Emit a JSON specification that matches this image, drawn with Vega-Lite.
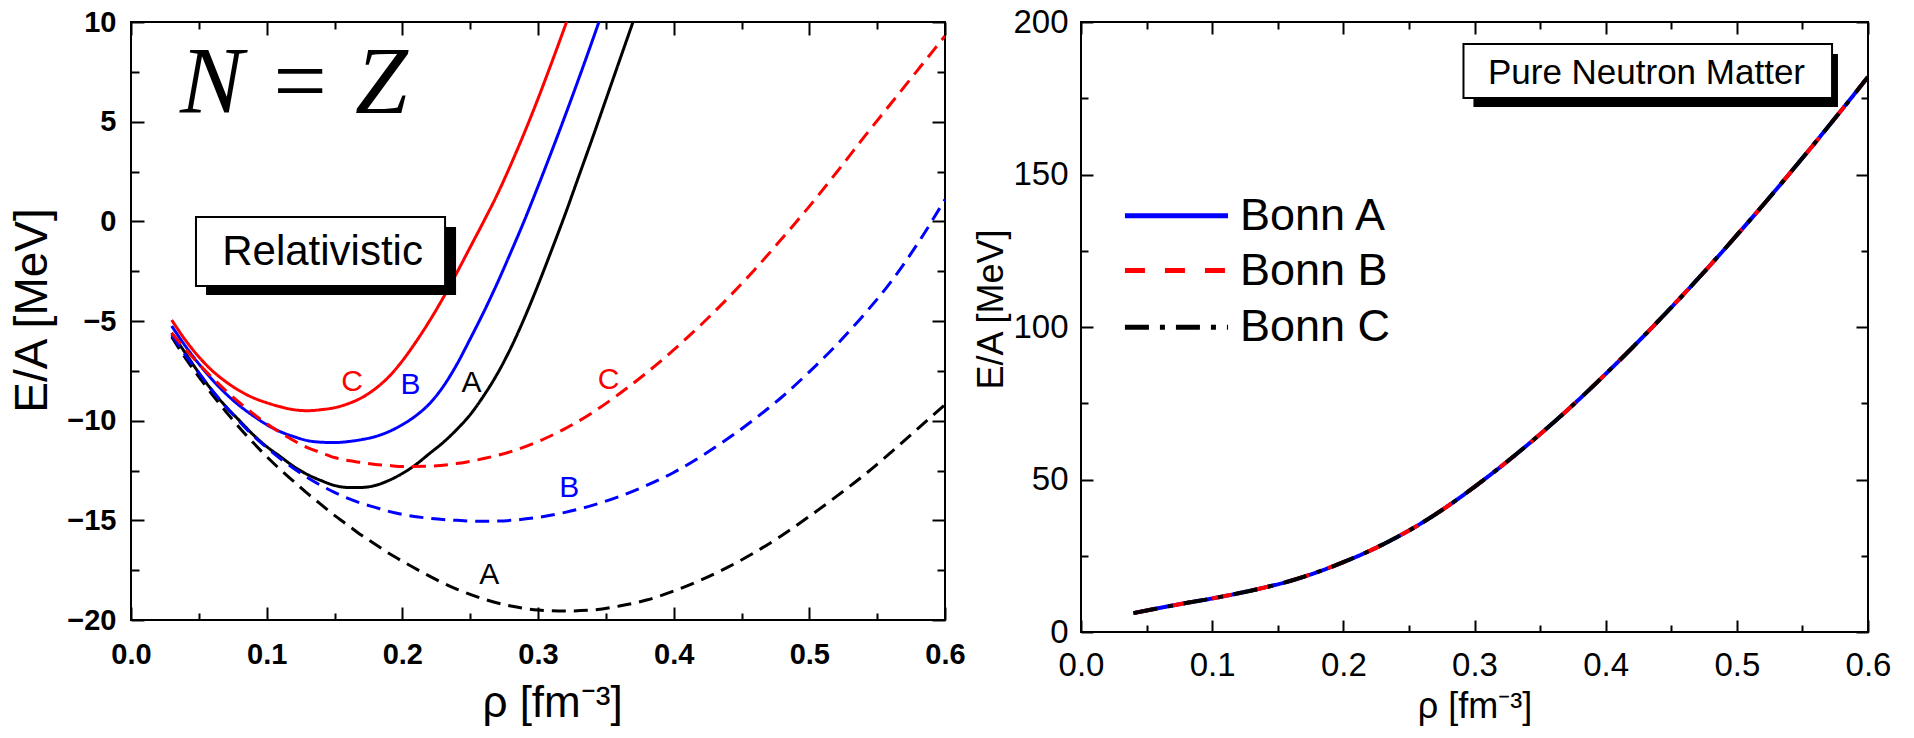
{
  "$schema": "https://vega.github.io/schema/vega-lite/v6.json",
  "background": "white",
  "padding": {"left": 8, "top": 5, "right": 0, "bottom": 0},
  "spacing": 5,
  "resolve": {"scale": {"color": "independent", "strokeDash": "independent", "x": "independent", "y": "independent"}},
  "config": {
    "view": {"stroke": "#000000", "strokeWidth": 2},
    "axis": {"grid": false, "domain": false},
    "font": "Liberation Sans"
  },
  "datasets": {
    "nz": [
      {"rho":0.03,"ea":-5.6,"model":"A","kind":"rel"},{"rho":0.04,"ea":-6.6,"model":"A","kind":"rel"},{"rho":0.05,"ea":-7.6,"model":"A","kind":"rel"},{"rho":0.06,"ea":-8.5,"model":"A","kind":"rel"},{"rho":0.07,"ea":-9.3,"model":"A","kind":"rel"},{"rho":0.08,"ea":-10.0,"model":"A","kind":"rel"},{"rho":0.09,"ea":-10.7,"model":"A","kind":"rel"},{"rho":0.10,"ea":-11.3,"model":"A","kind":"rel"},{"rho":0.11,"ea":-11.8,"model":"A","kind":"rel"},{"rho":0.12,"ea":-12.3,"model":"A","kind":"rel"},{"rho":0.13,"ea":-12.7,"model":"A","kind":"rel"},{"rho":0.14,"ea":-13.0,"model":"A","kind":"rel"},{"rho":0.15,"ea":-13.25,"model":"A","kind":"rel"},{"rho":0.16,"ea":-13.35,"model":"A","kind":"rel"},{"rho":0.17,"ea":-13.35,"model":"A","kind":"rel"},{"rho":0.18,"ea":-13.25,"model":"A","kind":"rel"},{"rho":0.19,"ea":-13.0,"model":"A","kind":"rel"},{"rho":0.20,"ea":-12.65,"model":"A","kind":"rel"},{"rho":0.21,"ea":-12.2,"model":"A","kind":"rel"},{"rho":0.22,"ea":-11.65,"model":"A","kind":"rel"},{"rho":0.23,"ea":-11.1,"model":"A","kind":"rel"},{"rho":0.24,"ea":-10.45,"model":"A","kind":"rel"},{"rho":0.25,"ea":-9.7,"model":"A","kind":"rel"},{"rho":0.26,"ea":-8.75,"model":"A","kind":"rel"},{"rho":0.27,"ea":-7.65,"model":"A","kind":"rel"},{"rho":0.28,"ea":-6.35,"model":"A","kind":"rel"},{"rho":0.29,"ea":-4.85,"model":"A","kind":"rel"},{"rho":0.30,"ea":-3.2,"model":"A","kind":"rel"},{"rho":0.31,"ea":-1.45,"model":"A","kind":"rel"},{"rho":0.32,"ea":0.35,"model":"A","kind":"rel"},{"rho":0.33,"ea":2.25,"model":"A","kind":"rel"},{"rho":0.34,"ea":4.15,"model":"A","kind":"rel"},{"rho":0.35,"ea":6.1,"model":"A","kind":"rel"},{"rho":0.36,"ea":8.05,"model":"A","kind":"rel"},{"rho":0.37,"ea":10.0,"model":"A","kind":"rel"},{"rho":0.38,"ea":12.0,"model":"A","kind":"rel"},
      {"rho":0.03,"ea":-5.25,"model":"B","kind":"rel"},{"rho":0.04,"ea":-6.25,"model":"B","kind":"rel"},{"rho":0.05,"ea":-7.15,"model":"B","kind":"rel"},{"rho":0.06,"ea":-7.95,"model":"B","kind":"rel"},{"rho":0.07,"ea":-8.65,"model":"B","kind":"rel"},{"rho":0.08,"ea":-9.25,"model":"B","kind":"rel"},{"rho":0.09,"ea":-9.75,"model":"B","kind":"rel"},{"rho":0.10,"ea":-10.2,"model":"B","kind":"rel"},{"rho":0.11,"ea":-10.55,"model":"B","kind":"rel"},{"rho":0.12,"ea":-10.8,"model":"B","kind":"rel"},{"rho":0.13,"ea":-11.0,"model":"B","kind":"rel"},{"rho":0.14,"ea":-11.08,"model":"B","kind":"rel"},{"rho":0.15,"ea":-11.1,"model":"B","kind":"rel"},{"rho":0.16,"ea":-11.05,"model":"B","kind":"rel"},{"rho":0.17,"ea":-10.95,"model":"B","kind":"rel"},{"rho":0.18,"ea":-10.8,"model":"B","kind":"rel"},{"rho":0.19,"ea":-10.55,"model":"B","kind":"rel"},{"rho":0.20,"ea":-10.2,"model":"B","kind":"rel"},{"rho":0.21,"ea":-9.75,"model":"B","kind":"rel"},{"rho":0.22,"ea":-9.15,"model":"B","kind":"rel"},{"rho":0.23,"ea":-8.3,"model":"B","kind":"rel"},{"rho":0.24,"ea":-7.2,"model":"B","kind":"rel"},{"rho":0.25,"ea":-5.9,"model":"B","kind":"rel"},{"rho":0.26,"ea":-4.55,"model":"B","kind":"rel"},{"rho":0.27,"ea":-3.1,"model":"B","kind":"rel"},{"rho":0.28,"ea":-1.55,"model":"B","kind":"rel"},{"rho":0.29,"ea":0.05,"model":"B","kind":"rel"},{"rho":0.30,"ea":1.75,"model":"B","kind":"rel"},{"rho":0.31,"ea":3.5,"model":"B","kind":"rel"},{"rho":0.32,"ea":5.3,"model":"B","kind":"rel"},{"rho":0.33,"ea":7.15,"model":"B","kind":"rel"},{"rho":0.34,"ea":9.05,"model":"B","kind":"rel"},{"rho":0.35,"ea":11.0,"model":"B","kind":"rel"},
      {"rho":0.03,"ea":-4.95,"model":"C","kind":"rel"},{"rho":0.04,"ea":-5.95,"model":"C","kind":"rel"},{"rho":0.05,"ea":-6.8,"model":"C","kind":"rel"},{"rho":0.06,"ea":-7.5,"model":"C","kind":"rel"},{"rho":0.07,"ea":-8.05,"model":"C","kind":"rel"},{"rho":0.08,"ea":-8.5,"model":"C","kind":"rel"},{"rho":0.09,"ea":-8.85,"model":"C","kind":"rel"},{"rho":0.10,"ea":-9.1,"model":"C","kind":"rel"},{"rho":0.11,"ea":-9.3,"model":"C","kind":"rel"},{"rho":0.12,"ea":-9.45,"model":"C","kind":"rel"},{"rho":0.13,"ea":-9.5,"model":"C","kind":"rel"},{"rho":0.14,"ea":-9.45,"model":"C","kind":"rel"},{"rho":0.15,"ea":-9.35,"model":"C","kind":"rel"},{"rho":0.16,"ea":-9.15,"model":"C","kind":"rel"},{"rho":0.17,"ea":-8.85,"model":"C","kind":"rel"},{"rho":0.18,"ea":-8.4,"model":"C","kind":"rel"},{"rho":0.19,"ea":-7.8,"model":"C","kind":"rel"},{"rho":0.20,"ea":-7.0,"model":"C","kind":"rel"},{"rho":0.21,"ea":-6.05,"model":"C","kind":"rel"},{"rho":0.22,"ea":-5.0,"model":"C","kind":"rel"},{"rho":0.23,"ea":-3.85,"model":"C","kind":"rel"},{"rho":0.24,"ea":-2.6,"model":"C","kind":"rel"},{"rho":0.25,"ea":-1.3,"model":"C","kind":"rel"},{"rho":0.26,"ea":0.0,"model":"C","kind":"rel"},{"rho":0.27,"ea":1.35,"model":"C","kind":"rel"},{"rho":0.28,"ea":2.85,"model":"C","kind":"rel"},{"rho":0.29,"ea":4.45,"model":"C","kind":"rel"},{"rho":0.30,"ea":6.15,"model":"C","kind":"rel"},{"rho":0.31,"ea":7.95,"model":"C","kind":"rel"},{"rho":0.32,"ea":9.8,"model":"C","kind":"rel"},{"rho":0.33,"ea":11.7,"model":"C","kind":"rel"},
      {"rho":0.03,"ea":-5.8,"model":"A","kind":"nonrel"},{"rho":0.04,"ea":-6.85,"model":"A","kind":"nonrel"},{"rho":0.05,"ea":-7.8,"model":"A","kind":"nonrel"},{"rho":0.06,"ea":-8.7,"model":"A","kind":"nonrel"},{"rho":0.07,"ea":-9.55,"model":"A","kind":"nonrel"},{"rho":0.08,"ea":-10.35,"model":"A","kind":"nonrel"},{"rho":0.09,"ea":-11.1,"model":"A","kind":"nonrel"},{"rho":0.10,"ea":-11.8,"model":"A","kind":"nonrel"},{"rho":0.11,"ea":-12.45,"model":"A","kind":"nonrel"},{"rho":0.12,"ea":-13.05,"model":"A","kind":"nonrel"},{"rho":0.13,"ea":-13.65,"model":"A","kind":"nonrel"},{"rho":0.14,"ea":-14.2,"model":"A","kind":"nonrel"},{"rho":0.15,"ea":-14.75,"model":"A","kind":"nonrel"},{"rho":0.16,"ea":-15.25,"model":"A","kind":"nonrel"},{"rho":0.17,"ea":-15.75,"model":"A","kind":"nonrel"},{"rho":0.18,"ea":-16.2,"model":"A","kind":"nonrel"},{"rho":0.19,"ea":-16.65,"model":"A","kind":"nonrel"},{"rho":0.20,"ea":-17.05,"model":"A","kind":"nonrel"},{"rho":0.22,"ea":-17.8,"model":"A","kind":"nonrel"},{"rho":0.24,"ea":-18.45,"model":"A","kind":"nonrel"},{"rho":0.26,"ea":-18.95,"model":"A","kind":"nonrel"},{"rho":0.28,"ea":-19.3,"model":"A","kind":"nonrel"},{"rho":0.30,"ea":-19.5,"model":"A","kind":"nonrel"},{"rho":0.32,"ea":-19.55,"model":"A","kind":"nonrel"},{"rho":0.34,"ea":-19.5,"model":"A","kind":"nonrel"},{"rho":0.36,"ea":-19.3,"model":"A","kind":"nonrel"},{"rho":0.38,"ea":-19.0,"model":"A","kind":"nonrel"},{"rho":0.40,"ea":-18.55,"model":"A","kind":"nonrel"},{"rho":0.42,"ea":-18.0,"model":"A","kind":"nonrel"},{"rho":0.44,"ea":-17.35,"model":"A","kind":"nonrel"},{"rho":0.46,"ea":-16.6,"model":"A","kind":"nonrel"},{"rho":0.48,"ea":-15.75,"model":"A","kind":"nonrel"},{"rho":0.50,"ea":-14.8,"model":"A","kind":"nonrel"},{"rho":0.52,"ea":-13.8,"model":"A","kind":"nonrel"},{"rho":0.54,"ea":-12.75,"model":"A","kind":"nonrel"},{"rho":0.56,"ea":-11.6,"model":"A","kind":"nonrel"},{"rho":0.58,"ea":-10.4,"model":"A","kind":"nonrel"},{"rho":0.60,"ea":-9.2,"model":"A","kind":"nonrel"},
      {"rho":0.03,"ea":-5.7,"model":"B","kind":"nonrel"},{"rho":0.04,"ea":-6.7,"model":"B","kind":"nonrel"},{"rho":0.05,"ea":-7.6,"model":"B","kind":"nonrel"},{"rho":0.06,"ea":-8.5,"model":"B","kind":"nonrel"},{"rho":0.07,"ea":-9.3,"model":"B","kind":"nonrel"},{"rho":0.08,"ea":-10.05,"model":"B","kind":"nonrel"},{"rho":0.09,"ea":-10.75,"model":"B","kind":"nonrel"},{"rho":0.10,"ea":-11.35,"model":"B","kind":"nonrel"},{"rho":0.11,"ea":-11.9,"model":"B","kind":"nonrel"},{"rho":0.12,"ea":-12.4,"model":"B","kind":"nonrel"},{"rho":0.13,"ea":-12.85,"model":"B","kind":"nonrel"},{"rho":0.14,"ea":-13.25,"model":"B","kind":"nonrel"},{"rho":0.15,"ea":-13.6,"model":"B","kind":"nonrel"},{"rho":0.16,"ea":-13.9,"model":"B","kind":"nonrel"},{"rho":0.17,"ea":-14.15,"model":"B","kind":"nonrel"},{"rho":0.18,"ea":-14.35,"model":"B","kind":"nonrel"},{"rho":0.19,"ea":-14.55,"model":"B","kind":"nonrel"},{"rho":0.20,"ea":-14.7,"model":"B","kind":"nonrel"},{"rho":0.22,"ea":-14.9,"model":"B","kind":"nonrel"},{"rho":0.24,"ea":-15.0,"model":"B","kind":"nonrel"},{"rho":0.26,"ea":-15.05,"model":"B","kind":"nonrel"},{"rho":0.28,"ea":-15.0,"model":"B","kind":"nonrel"},{"rho":0.30,"ea":-14.85,"model":"B","kind":"nonrel"},{"rho":0.32,"ea":-14.6,"model":"B","kind":"nonrel"},{"rho":0.34,"ea":-14.25,"model":"B","kind":"nonrel"},{"rho":0.36,"ea":-13.8,"model":"B","kind":"nonrel"},{"rho":0.38,"ea":-13.25,"model":"B","kind":"nonrel"},{"rho":0.40,"ea":-12.6,"model":"B","kind":"nonrel"},{"rho":0.42,"ea":-11.8,"model":"B","kind":"nonrel"},{"rho":0.44,"ea":-10.9,"model":"B","kind":"nonrel"},{"rho":0.46,"ea":-9.9,"model":"B","kind":"nonrel"},{"rho":0.48,"ea":-8.8,"model":"B","kind":"nonrel"},{"rho":0.50,"ea":-7.55,"model":"B","kind":"nonrel"},{"rho":0.52,"ea":-6.2,"model":"B","kind":"nonrel"},{"rho":0.54,"ea":-4.7,"model":"B","kind":"nonrel"},{"rho":0.56,"ea":-3.05,"model":"B","kind":"nonrel"},{"rho":0.58,"ea":-1.1,"model":"B","kind":"nonrel"},{"rho":0.60,"ea":1.1,"model":"B","kind":"nonrel"},
      {"rho":0.03,"ea":-5.6,"model":"C","kind":"nonrel"},{"rho":0.04,"ea":-6.4,"model":"C","kind":"nonrel"},{"rho":0.05,"ea":-7.15,"model":"C","kind":"nonrel"},{"rho":0.06,"ea":-7.85,"model":"C","kind":"nonrel"},{"rho":0.07,"ea":-8.5,"model":"C","kind":"nonrel"},{"rho":0.08,"ea":-9.1,"model":"C","kind":"nonrel"},{"rho":0.09,"ea":-9.65,"model":"C","kind":"nonrel"},{"rho":0.10,"ea":-10.15,"model":"C","kind":"nonrel"},{"rho":0.11,"ea":-10.6,"model":"C","kind":"nonrel"},{"rho":0.12,"ea":-11.0,"model":"C","kind":"nonrel"},{"rho":0.13,"ea":-11.35,"model":"C","kind":"nonrel"},{"rho":0.14,"ea":-11.6,"model":"C","kind":"nonrel"},{"rho":0.15,"ea":-11.85,"model":"C","kind":"nonrel"},{"rho":0.16,"ea":-12.0,"model":"C","kind":"nonrel"},{"rho":0.17,"ea":-12.1,"model":"C","kind":"nonrel"},{"rho":0.18,"ea":-12.2,"model":"C","kind":"nonrel"},{"rho":0.19,"ea":-12.25,"model":"C","kind":"nonrel"},{"rho":0.20,"ea":-12.3,"model":"C","kind":"nonrel"},{"rho":0.22,"ea":-12.28,"model":"C","kind":"nonrel"},{"rho":0.24,"ea":-12.15,"model":"C","kind":"nonrel"},{"rho":0.26,"ea":-11.9,"model":"C","kind":"nonrel"},{"rho":0.28,"ea":-11.55,"model":"C","kind":"nonrel"},{"rho":0.30,"ea":-11.05,"model":"C","kind":"nonrel"},{"rho":0.32,"ea":-10.4,"model":"C","kind":"nonrel"},{"rho":0.34,"ea":-9.6,"model":"C","kind":"nonrel"},{"rho":0.36,"ea":-8.65,"model":"C","kind":"nonrel"},{"rho":0.38,"ea":-7.6,"model":"C","kind":"nonrel"},{"rho":0.40,"ea":-6.45,"model":"C","kind":"nonrel"},{"rho":0.42,"ea":-5.2,"model":"C","kind":"nonrel"},{"rho":0.44,"ea":-3.85,"model":"C","kind":"nonrel"},{"rho":0.46,"ea":-2.4,"model":"C","kind":"nonrel"},{"rho":0.48,"ea":-0.85,"model":"C","kind":"nonrel"},{"rho":0.50,"ea":0.75,"model":"C","kind":"nonrel"},{"rho":0.52,"ea":2.45,"model":"C","kind":"nonrel"},{"rho":0.54,"ea":4.2,"model":"C","kind":"nonrel"},{"rho":0.56,"ea":5.9,"model":"C","kind":"nonrel"},{"rho":0.58,"ea":7.6,"model":"C","kind":"nonrel"},{"rho":0.60,"ea":9.3,"model":"C","kind":"nonrel"}
    ],
    "nzlabels": [
      {"rho":0.163,"ea":-8.07,"model":"C","label":"C"},
      {"rho":0.206,"ea":-8.2,"model":"B","label":"B"},
      {"rho":0.251,"ea":-8.1,"model":"A","label":"A"},
      {"rho":0.352,"ea":-7.95,"model":"C","label":"C"},
      {"rho":0.323,"ea":-13.4,"model":"B","label":"B"},
      {"rho":0.264,"ea":-17.75,"model":"A","label":"A"}
    ],
    "relbox": [{"x1":0.0479,"x2":0.2315,"y1":0.22,"y2":-3.25,"sx1":0.0553,"sx2":0.2396,"sy1":-0.29,"sy2":-3.70,"tx":0.1412,"ty":-2.19,"label":"Relativistic"}],
    "nztitle": [{"tx":0.1201,"ty":5.43,"label":"N = Z"}],
    "pnm": [
      {"rho":0.04,"ea":6.2,"model":"Bonn A"},{"rho":0.06,"ea":7.9,"model":"Bonn A"},{"rho":0.08,"ea":9.5,"model":"Bonn A"},{"rho":0.10,"ea":11.0,"model":"Bonn A"},{"rho":0.12,"ea":12.7,"model":"Bonn A"},{"rho":0.14,"ea":14.6,"model":"Bonn A"},{"rho":0.16,"ea":16.8,"model":"Bonn A"},{"rho":0.18,"ea":19.6,"model":"Bonn A"},{"rho":0.20,"ea":22.9,"model":"Bonn A"},{"rho":0.22,"ea":26.6,"model":"Bonn A"},{"rho":0.24,"ea":30.9,"model":"Bonn A"},{"rho":0.26,"ea":35.8,"model":"Bonn A"},{"rho":0.28,"ea":41.4,"model":"Bonn A"},{"rho":0.30,"ea":47.6,"model":"Bonn A"},{"rho":0.32,"ea":54.2,"model":"Bonn A"},{"rho":0.34,"ea":61.2,"model":"Bonn A"},{"rho":0.36,"ea":68.6,"model":"Bonn A"},{"rho":0.38,"ea":76.4,"model":"Bonn A"},{"rho":0.40,"ea":84.6,"model":"Bonn A"},{"rho":0.42,"ea":93.1,"model":"Bonn A"},{"rho":0.44,"ea":101.9,"model":"Bonn A"},{"rho":0.46,"ea":111.0,"model":"Bonn A"},{"rho":0.48,"ea":120.4,"model":"Bonn A"},{"rho":0.50,"ea":130.1,"model":"Bonn A"},{"rho":0.52,"ea":140.0,"model":"Bonn A"},{"rho":0.54,"ea":150.2,"model":"Bonn A"},{"rho":0.56,"ea":160.6,"model":"Bonn A"},{"rho":0.58,"ea":171.2,"model":"Bonn A"},{"rho":0.60,"ea":182.0,"model":"Bonn A"},
      {"rho":0.04,"ea":6.2,"model":"Bonn B"},{"rho":0.06,"ea":7.9,"model":"Bonn B"},{"rho":0.08,"ea":9.5,"model":"Bonn B"},{"rho":0.10,"ea":11.0,"model":"Bonn B"},{"rho":0.12,"ea":12.7,"model":"Bonn B"},{"rho":0.14,"ea":14.6,"model":"Bonn B"},{"rho":0.16,"ea":16.8,"model":"Bonn B"},{"rho":0.18,"ea":19.6,"model":"Bonn B"},{"rho":0.20,"ea":22.9,"model":"Bonn B"},{"rho":0.22,"ea":26.6,"model":"Bonn B"},{"rho":0.24,"ea":30.9,"model":"Bonn B"},{"rho":0.26,"ea":35.8,"model":"Bonn B"},{"rho":0.28,"ea":41.4,"model":"Bonn B"},{"rho":0.30,"ea":47.6,"model":"Bonn B"},{"rho":0.32,"ea":54.2,"model":"Bonn B"},{"rho":0.34,"ea":61.2,"model":"Bonn B"},{"rho":0.36,"ea":68.6,"model":"Bonn B"},{"rho":0.38,"ea":76.4,"model":"Bonn B"},{"rho":0.40,"ea":84.6,"model":"Bonn B"},{"rho":0.42,"ea":93.1,"model":"Bonn B"},{"rho":0.44,"ea":101.9,"model":"Bonn B"},{"rho":0.46,"ea":111.0,"model":"Bonn B"},{"rho":0.48,"ea":120.4,"model":"Bonn B"},{"rho":0.50,"ea":130.1,"model":"Bonn B"},{"rho":0.52,"ea":140.0,"model":"Bonn B"},{"rho":0.54,"ea":150.2,"model":"Bonn B"},{"rho":0.56,"ea":160.6,"model":"Bonn B"},{"rho":0.58,"ea":171.2,"model":"Bonn B"},{"rho":0.60,"ea":182.0,"model":"Bonn B"},
      {"rho":0.04,"ea":6.2,"model":"Bonn C"},{"rho":0.06,"ea":7.9,"model":"Bonn C"},{"rho":0.08,"ea":9.5,"model":"Bonn C"},{"rho":0.10,"ea":11.0,"model":"Bonn C"},{"rho":0.12,"ea":12.7,"model":"Bonn C"},{"rho":0.14,"ea":14.6,"model":"Bonn C"},{"rho":0.16,"ea":16.8,"model":"Bonn C"},{"rho":0.18,"ea":19.6,"model":"Bonn C"},{"rho":0.20,"ea":22.9,"model":"Bonn C"},{"rho":0.22,"ea":26.6,"model":"Bonn C"},{"rho":0.24,"ea":30.9,"model":"Bonn C"},{"rho":0.26,"ea":35.8,"model":"Bonn C"},{"rho":0.28,"ea":41.4,"model":"Bonn C"},{"rho":0.30,"ea":47.6,"model":"Bonn C"},{"rho":0.32,"ea":54.2,"model":"Bonn C"},{"rho":0.34,"ea":61.2,"model":"Bonn C"},{"rho":0.36,"ea":68.6,"model":"Bonn C"},{"rho":0.38,"ea":76.4,"model":"Bonn C"},{"rho":0.40,"ea":84.6,"model":"Bonn C"},{"rho":0.42,"ea":93.1,"model":"Bonn C"},{"rho":0.44,"ea":101.9,"model":"Bonn C"},{"rho":0.46,"ea":111.0,"model":"Bonn C"},{"rho":0.48,"ea":120.4,"model":"Bonn C"},{"rho":0.50,"ea":130.1,"model":"Bonn C"},{"rho":0.52,"ea":140.0,"model":"Bonn C"},{"rho":0.54,"ea":150.2,"model":"Bonn C"},{"rho":0.56,"ea":160.6,"model":"Bonn C"},{"rho":0.58,"ea":171.2,"model":"Bonn C"},{"rho":0.60,"ea":182.0,"model":"Bonn C"}
    ],
    "pnmlegend": [
      {"model":"Bonn A","x1":0.0335,"x2":0.1121,"tx":0.1212,"y":136.5},
      {"model":"Bonn B","x1":0.0335,"x2":0.1121,"tx":0.1212,"y":118.5},
      {"model":"Bonn C","x1":0.0335,"x2":0.1121,"tx":0.1212,"y":99.9}
    ],
    "pnmbox": [{"x1":0.2916,"x2":0.5726,"y1":192.8,"y2":175.1,"sx1":0.2992,"sx2":0.5771,"sy1":189.5,"sy2":172.1,"tx":0.4311,"ty":179.7,"label":"Pure Neutron Matter"}]
  },
  "hconcat": [
    {
      "width": 814,
      "height": 598,
      "resolve": {"axis": {"x": "independent", "y": "independent"}},
      "layer": [
        {
          "data": {"name": "nz"},
          "mark": {"type": "line", "strokeWidth": 3, "interpolate": "monotone", "clip": true},
          "encoding": {
            "x": {"field": "rho", "type": "quantitative",
              "scale": {"domain": [0, 0.6], "nice": false, "zero": false},
              "axis": {"orient": "bottom", "values": [0, 0.1, 0.2, 0.3, 0.4, 0.5, 0.6], "format": ".1f", "tickSize": -13, "tickWidth": 2, "tickColor": "#000000", "labelFont": "Liberation Sans", "labelFontSize": 29, "labelFontWeight": "bold", "labelColor": "#000000", "labelPadding": 33, "labelFlush": false, "labelOverlap": false, "title": "ρ [fm⁻³]", "titleFont": "Liberation Sans", "titleFontSize": 44, "titleFontWeight": "normal", "titleColor": "#000000", "titlePadding": 12, "titleX": 421}},
            "y": {"field": "ea", "type": "quantitative",
              "scale": {"domain": [-20, 10], "nice": false, "zero": false},
              "axis": {"orient": "left", "values": [-20, -15, -10, -5, 0, 5, 10], "tickSize": -13, "tickWidth": 2, "tickColor": "#000000", "labelFont": "Liberation Sans", "labelFontSize": 29, "labelFontWeight": "bold", "labelColor": "#000000", "labelPadding": 28, "labelFlush": false, "labelOverlap": false, "title": "E/A [MeV]", "titleFont": "Liberation Sans", "titleFontSize": 46, "titleFontWeight": "normal", "titleColor": "#000000", "titlePadding": 10, "titleY": 288}},
            "color": {"field": "model", "type": "nominal", "scale": {"domain": ["A", "B", "C"], "range": ["#000000", "#0000ff", "#ff0000"]}, "legend": null},
            "strokeDash": {"field": "kind", "type": "nominal", "scale": {"domain": ["rel", "nonrel"], "range": [[1, 0], [14, 8]]}, "legend": null}
          }
        },
        {
          "data": {"name": "nzlabels"},
          "mark": {"type": "text", "font": "Liberation Sans", "fontSize": 30, "align": "center", "baseline": "middle"},
          "encoding": {
            "x": {"field": "rho", "type": "quantitative", "axis": {"orient": "top", "values": [0, 0.1, 0.2, 0.3, 0.4, 0.5, 0.6], "tickSize": -13, "tickWidth": 2, "tickColor": "#000000", "labels": false, "title": null}},
            "y": {"field": "ea", "type": "quantitative", "axis": {"orient": "right", "values": [-20, -15, -10, -5, 0, 5, 10], "tickSize": -13, "tickWidth": 2, "tickColor": "#000000", "labels": false, "title": null}},
            "text": {"field": "label"},
            "color": {"field": "model", "type": "nominal", "legend": null}
          }
        },
        {
          "data": {"name": "relbox"},
          "mark": {"type": "rect", "fill": "#000000"},
          "encoding": {
            "x": {"field": "sx1", "type": "quantitative", "axis": {"orient": "bottom", "values": [0.05, 0.15, 0.25, 0.35, 0.45, 0.55], "tickSize": -7, "tickWidth": 2, "tickColor": "#000000", "labels": false, "title": null}},
            "x2": {"field": "sx2"},
            "y": {"field": "sy1", "type": "quantitative", "axis": {"orient": "left", "values": [-17.5, -12.5, -7.5, -2.5, 2.5, 7.5], "tickSize": -8, "tickWidth": 2, "tickColor": "#000000", "labels": false, "title": null}},
            "y2": {"field": "sy2"}
          }
        },
        {
          "data": {"name": "relbox"},
          "mark": {"type": "rect", "fill": "#ffffff", "stroke": "#000000", "strokeWidth": 2},
          "encoding": {
            "x": {"field": "x1", "type": "quantitative", "axis": {"orient": "top", "values": [0.05, 0.15, 0.25, 0.35, 0.45, 0.55], "tickSize": -7, "tickWidth": 2, "tickColor": "#000000", "labels": false, "title": null}},
            "x2": {"field": "x2"},
            "y": {"field": "y1", "type": "quantitative", "axis": {"orient": "right", "values": [-17.5, -12.5, -7.5, -2.5, 2.5, 7.5], "tickSize": -8, "tickWidth": 2, "tickColor": "#000000", "labels": false, "title": null}},
            "y2": {"field": "y2"}
          }
        },
        {
          "data": {"name": "relbox"},
          "mark": {"type": "text", "font": "Liberation Sans", "fontSize": 42, "align": "center", "baseline": "alphabetic", "color": "#000000"},
          "encoding": {
            "x": {"field": "tx", "type": "quantitative", "axis": null},
            "y": {"field": "ty", "type": "quantitative", "axis": null},
            "text": {"field": "label"}
          }
        },
        {
          "data": {"name": "nztitle"},
          "mark": {"type": "text", "font": "Liberation Serif", "fontStyle": "italic", "fontSize": 95, "align": "center", "baseline": "alphabetic", "color": "#000000"},
          "encoding": {
            "x": {"field": "tx", "type": "quantitative", "axis": null},
            "y": {"field": "ty", "type": "quantitative", "axis": null},
            "text": {"field": "label"}
          }
        }
      ]
    },
    {
      "width": 787,
      "height": 610,
      "resolve": {"axis": {"x": "independent", "y": "independent"}},
      "layer": [
        {
          "data": {"name": "pnm"},
          "mark": {"type": "line", "strokeWidth": 4, "interpolate": "monotone", "clip": true},
          "encoding": {
            "x": {"field": "rho", "type": "quantitative",
              "scale": {"domain": [0, 0.6], "nice": false, "zero": false},
              "axis": {"orient": "bottom", "values": [0, 0.1, 0.2, 0.3, 0.4, 0.5, 0.6], "format": ".1f", "tickSize": -12, "tickWidth": 2, "tickColor": "#000000", "labelFont": "Liberation Sans", "labelFontSize": 33, "labelColor": "#000000", "labelPadding": 29, "labelFlush": false, "labelOverlap": false, "title": "ρ [fm⁻³]", "titleFont": "Liberation Sans", "titleFontSize": 36, "titleFontWeight": "normal", "titleColor": "#000000", "titlePadding": 7}},
            "y": {"field": "ea", "type": "quantitative",
              "scale": {"domain": [0, 200], "nice": false, "zero": false},
              "axis": {"orient": "left", "values": [0, 50, 100, 150, 200], "tickSize": -12, "tickWidth": 2, "tickColor": "#000000", "labelFont": "Liberation Sans", "labelFontSize": 33, "labelColor": "#000000", "labelPadding": 25, "labelFlush": false, "labelOverlap": false, "title": "E/A [MeV]", "titleFont": "Liberation Sans", "titleFontSize": 36, "titleFontWeight": "normal", "titleColor": "#000000", "titlePadding": 2, "titleY": 287}},
            "color": {"field": "model", "type": "nominal", "scale": {"domain": ["Bonn A", "Bonn B", "Bonn C"], "range": ["#0000ff", "#ff0000", "#000000"]}, "legend": null},
            "strokeDash": {"field": "model", "type": "nominal", "scale": {"domain": ["Bonn A", "Bonn B", "Bonn C"], "range": [[1, 0], [20, 20], [24, 11, 5, 11]]}, "legend": null}
          }
        },
        {
          "data": {"name": "pnmlegend"},
          "mark": {"type": "rule", "strokeWidth": 5},
          "encoding": {
            "x": {"field": "x1", "type": "quantitative", "axis": {"orient": "top", "values": [0, 0.1, 0.2, 0.3, 0.4, 0.5, 0.6], "tickSize": -12, "tickWidth": 2, "tickColor": "#000000", "labels": false, "title": null}},
            "x2": {"field": "x2"},
            "y": {"field": "y", "type": "quantitative", "axis": {"orient": "right", "values": [0, 50, 100, 150, 200], "tickSize": -12, "tickWidth": 2, "tickColor": "#000000", "labels": false, "title": null}},
            "color": {"field": "model", "type": "nominal", "legend": null},
            "strokeDash": {"field": "model", "type": "nominal", "legend": null}
          }
        },
        {
          "data": {"name": "pnmlegend"},
          "mark": {"type": "text", "font": "Liberation Sans", "fontSize": 45, "align": "left", "baseline": "middle", "color": "#000000"},
          "encoding": {
            "x": {"field": "tx", "type": "quantitative", "axis": {"orient": "bottom", "values": [0.05, 0.15, 0.25, 0.35, 0.45, 0.55], "tickSize": -7, "tickWidth": 2, "tickColor": "#000000", "labels": false, "title": null}},
            "y": {"field": "y", "type": "quantitative", "axis": {"orient": "left", "values": [25, 75, 125, 175], "tickSize": -7, "tickWidth": 2, "tickColor": "#000000", "labels": false, "title": null}},
            "text": {"field": "model"}
          }
        },
        {
          "data": {"name": "pnmbox"},
          "mark": {"type": "rect", "fill": "#000000"},
          "encoding": {
            "x": {"field": "sx1", "type": "quantitative", "axis": {"orient": "top", "values": [0.05, 0.15, 0.25, 0.35, 0.45, 0.55], "tickSize": -7, "tickWidth": 2, "tickColor": "#000000", "labels": false, "title": null}},
            "x2": {"field": "sx2"},
            "y": {"field": "sy1", "type": "quantitative", "axis": {"orient": "right", "values": [25, 75, 125, 175], "tickSize": -7, "tickWidth": 2, "tickColor": "#000000", "labels": false, "title": null}},
            "y2": {"field": "sy2"}
          }
        },
        {
          "data": {"name": "pnmbox"},
          "mark": {"type": "rect", "fill": "#ffffff", "stroke": "#000000", "strokeWidth": 2},
          "encoding": {
            "x": {"field": "x1", "type": "quantitative", "axis": null},
            "x2": {"field": "x2"},
            "y": {"field": "y1", "type": "quantitative", "axis": null},
            "y2": {"field": "y2"}
          }
        },
        {
          "data": {"name": "pnmbox"},
          "mark": {"type": "text", "font": "Liberation Sans", "fontSize": 35, "align": "center", "baseline": "alphabetic", "color": "#000000"},
          "encoding": {
            "x": {"field": "tx", "type": "quantitative", "axis": null},
            "y": {"field": "ty", "type": "quantitative", "axis": null},
            "text": {"field": "label"}
          }
        }
      ]
    }
  ]
}
